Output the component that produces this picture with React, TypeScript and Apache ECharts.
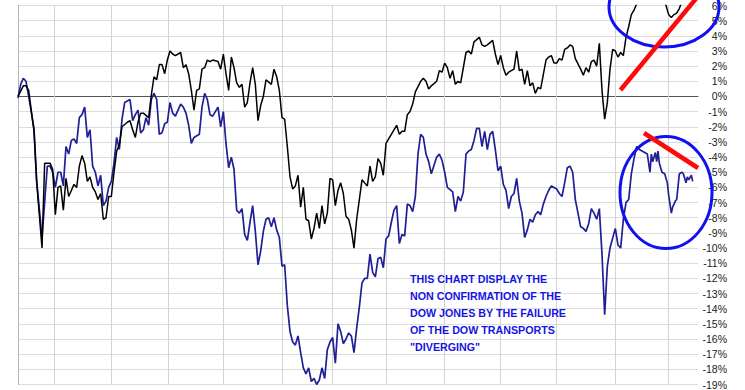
import React, { useEffect, useRef } from "react";
import * as echarts from "echarts";

// Trading-day index (x) and % change (y)
const dowDays = [0,2,3,4,6,7,9,10,12,13,14,15,16,17,18,19,20,21,22,23,24,25,26,27,28,29,30,31,32,33,34,35,36,37,38,39,41,42,43,44,45,46,47,49,50,51,52,53,54,55,56,57,58,59,61,62,63,64,65,66,67,68,69,70,71,72,73,75,76,77,78,79,80,81,82,83,84,85,86,87,88,89,90,91,92,93,95,96,97,98,99,100,101,102,103,104,105,106,107,108,109,110,111,112,113,114,115,116,117,118,119,120,121,122,123,124,125,126,127,128,129,130,131,132,133,134,135,136,137,138,139,140,142,143,144,145,146,147,148,149,151,152,153,154,155,157,158,159,160,161,162,163,164,165,166,168,169,170,171,173,174,175,176,178,179,180,181,182,183,184,186,187,188,189,190,191,192,193,194,195,196,198,199,200,201,202,203,204,205,206,207,208,209,211,212,213,214,215,216,217,218,219,220,221,222,223,224,225,226,227,228,229,230,231,232,233,234,236,238,240,242,243,244,245,246,247,248,249,250,252];
const dowPct = [0.0,0.7,0.7,0.4,-2.3,-5.6,-10.0,-4.4,-4.4,-4.8,-7.8,-6.0,-5.9,-7.5,-5.4,-6.6,-6.2,-5.8,-6.0,-4.6,-3.9,-4.4,-5.6,-5.3,-6.0,-6.3,-6.8,-6.4,-8.1,-8.0,-6.6,-6.6,-5.0,-3.6,-3.2,-2.0,-1.7,-1.6,-2.2,-2.7,-1.7,-1.1,-1.1,-1.4,0.1,1.3,1.1,2.1,2.1,1.5,2.4,3.0,2.8,2.7,2.9,1.9,2.1,1.5,0.4,-0.9,0.4,0.5,1.8,1.9,2.4,2.3,2.4,2.3,1.8,2.8,1.5,0.4,2.6,1.9,0.9,0.6,0.8,-0.7,-0.4,0.9,1.9,0.8,-1.6,-0.6,0.0,1.1,0.8,1.8,1.3,0.4,-1.4,-1.5,-3.3,-5.3,-6.1,-5.9,-5.2,-7.3,-6.0,-8.1,-8.2,-9.4,-8.7,-7.7,-8.7,-7.2,-8.4,-7.7,-5.4,-5.5,-7.2,-6.2,-5.7,-6.4,-7.9,-8.1,-8.8,-10.0,-8.1,-6.8,-5.5,-5.7,-5.9,-4.6,-5.6,-5.3,-4.1,-4.4,-5.2,-3.1,-2.8,-2.5,-1.9,-2.5,-2.3,-2.3,-1.2,-1.0,-0.5,0.3,1.0,1.2,1.0,0.5,0.7,1.0,1.7,1.6,2.2,1.9,1.2,1.7,0.8,1.0,0.9,2.9,3.0,2.8,3.6,3.9,3.4,3.3,3.4,3.7,2.8,2.1,2.7,1.9,1.4,1.6,1.8,3.0,1.7,1.8,0.8,1.7,0.7,0.9,0.2,0.6,0.5,2.4,2.6,2.7,2.2,2.2,2.5,2.4,3.1,3.2,3.4,3.3,2.5,1.8,1.4,1.9,1.6,2.3,2.4,2.0,3.5,0.4,-1.5,-0.4,1.8,3.1,3.0,2.6,2.9,2.7,3.9,4.6,5.4,5.7,6.1,6.5,6.9,7.1,7.0,6.8,6.4,6.0,5.4,5.2,5.4,5.5,5.8,6.3,6.6,7.0];

const transDays = [0,1,2,3,4,6,7,9,11,12,13,14,15,16,17,18,19,20,21,22,23,24,25,26,27,28,29,30,31,32,33,34,35,36,37,38,39,40,42,43,44,45,46,47,48,49,50,51,52,53,54,55,56,57,58,59,61,62,63,64,65,66,68,69,70,71,72,73,75,76,77,78,79,80,81,82,83,84,85,86,87,88,89,90,91,92,93,94,95,96,97,98,99,100,101,102,103,104,105,106,107,108,109,110,111,112,113,114,115,116,117,118,119,120,121,122,123,124,125,126,127,128,129,130,131,132,133,134,135,136,137,138,139,140,141,142,143,144,145,146,147,148,149,150,151,152,153,154,155,157,158,159,160,161,163,164,165,166,167,168,169,170,171,172,173,174,175,176,177,178,179,180,181,182,183,184,185,186,187,188,189,190,191,192,193,194,195,196,197,198,199,200,202,203,204,205,206,207,208,209,211,212,213,214,215,216,217,218,219,220,221,222,224,225,226,227,228,229,230,231,232,233,234,235,236,237,237.5,238,239,239.5,240,240.5,241.5,242.5,243.5,244,245,245.5,246.5,247,248,249,249.5,250.5,251,251.5,252.5,253];
const transPct = [-0.1,0.8,1.2,1.0,0.0,-2.1,-5.6,-9.3,-4.6,-4.6,-5.0,-6.0,-5.0,-5.0,-5.9,-3.3,-3.8,-2.9,-2.8,-3.1,-1.4,-1.2,-0.7,-2.7,-2.2,-4.6,-5.0,-5.9,-5.2,-7.2,-6.9,-6.0,-5.6,-4.4,-2.7,-3.5,-1.5,-0.4,-0.2,-1.6,-1.2,-0.9,-2.4,-2.2,-1.4,-1.9,-0.2,0.2,-0.2,-2.5,-2.4,-1.8,-1.7,-0.4,-1.1,-1.3,-0.5,-0.7,-1.1,-1.9,-3.1,-2.7,-2.5,-0.7,0.2,-0.2,-1.2,-1.3,-0.7,-2.0,-1.0,-3.1,-4.7,-4.0,-4.8,-7.5,-7.7,-7.4,-9.1,-9.5,-8.3,-7.2,-8.9,-11.1,-10.2,-8.9,-8.1,-8.0,-8.6,-8.0,-8.8,-9.3,-11.2,-11.1,-13.8,-15.5,-16.2,-16.4,-15.8,-16.9,-17.9,-18.3,-17.9,-18.8,-18.6,-19.0,-18.7,-17.9,-18.6,-16.7,-16.2,-15.9,-17.6,-15.0,-15.5,-16.3,-16.0,-15.6,-15.8,-16.9,-15.3,-13.9,-12.3,-12.0,-12.0,-10.4,-11.6,-11.9,-10.7,-10.6,-11.3,-9.4,-9.2,-8.3,-7.5,-7.2,-9.7,-9.1,-9.2,-7.1,-7.2,-7.6,-6.6,-3.8,-2.5,-2.7,-3.8,-4.3,-5.1,-4.0,-3.8,-4.2,-5.0,-6.0,-6.3,-7.6,-6.6,-6.9,-6.3,-3.8,-3.6,-3.5,-2.9,-2.1,-2.1,-3.3,-2.3,-3.5,-2.5,-2.3,-3.5,-4.9,-4.6,-5.8,-6.2,-7.4,-6.6,-6.4,-5.4,-6.9,-7.7,-9.3,-8.8,-8.1,-8.3,-7.8,-7.6,-7.8,-7.1,-6.6,-6.2,-5.9,-6.1,-6.4,-6.6,-5.7,-4.7,-4.6,-5.0,-6.8,-8.6,-8.7,-8.9,-8.4,-7.4,-7.7,-8.1,-7.4,-10.4,-14.4,-11.2,-10.0,-8.7,-9.8,-10.0,-8.1,-7.0,-6.8,-5.1,-4.1,-3.3,-3.5,-3.6,-3.7,-3.8,-5.0,-3.8,-4.3,-3.7,-4.3,-3.6,-4.4,-5.0,-5.1,-5.7,-6.5,-7.7,-7.3,-6.9,-6.8,-5.1,-5.0,-5.1,-5.7,-5.3,-5.5,-5.2,-5.6];

// Month boundaries (trading-day index) drawn as vertical grid lines
const monthStarts = [13.5, 35, 56.5, 77, 99, 118, 138, 160, 181, 202, 224, 244];

const yMin = -19;
const yMax = 6;
const dayMax = 255;

const noteText = [
  "THIS CHART DISPLAY THE",
  "NON CONFIRMATION OF THE",
  "DOW JONES BY THE FAILURE",
  "OF THE DOW TRANSPORTS",
  '"DIVERGING"',
];

export default function App() {
  const ref = useRef<HTMLDivElement>(null);
  useEffect(() => {
    if (!ref.current) return;
    const chart = echarts.init(ref.current, null, { renderer: "svg" });
    const dow = dowDays.map((d, i) => [d, dowPct[i]]);
    const trans = transDays.map((d, i) => [d, transPct[i]]);
    chart.setOption({
      animation: false,
      backgroundColor: "#ffffff",
      grid: { left: 18, right: 47, top: 0, bottom: -13, containLabel: false },
      xAxis: {
        type: "value",
        min: 0,
        max: dayMax,
        axisLine: { show: true, onZero: true, lineStyle: { color: "#555555", width: 1 } },
        axisTick: { show: false },
        axisLabel: { show: false },
        splitLine: { show: false },
      },
      yAxis: [
        {
          type: "value",
          position: "right",
          min: yMin,
          max: yMax,
          interval: 1,
          axisLine: { show: true, lineStyle: { color: "#b4b4b4", width: 1 } },
          axisTick: { show: false },
          axisLabel: {
            formatter: (v: number) => `${v}%`,
            align: "right",
            margin: 29,
            color: "#1a1a1a",
            fontSize: 10.5,
            fontFamily: "Liberation Sans, Arial, sans-serif",
          },
          splitLine: { show: true, lineStyle: { color: "#dcdcdc", width: 1 } },
        },
        {
          type: "value",
          position: "left",
          min: yMin,
          max: yMax,
          interval: 1,
          axisLine: { show: true, lineStyle: { color: "#b4b4b4", width: 1 } },
          axisTick: { show: false },
          axisLabel: { show: false },
          splitLine: { show: false },
        },
      ],
      series: [
        {
          type: "line",
          name: "Dow Transports",
          data: trans,
          showSymbol: false,
          symbol: "none",
          lineStyle: { color: "#1f1f96", width: 1.7 },
          z: 3,
          markLine: {
            silent: true,
            z: 1,
            symbol: ["none", "none"],
            label: { show: false },
            lineStyle: { color: "#d4d4d4", width: 1, type: "solid" },
            data: monthStarts.map((d) => ({ xAxis: d })),
          },
        },
        {
          type: "line",
          name: "Dow Jones",
          data: dow,
          showSymbol: false,
          symbol: "none",
          lineStyle: { color: "#000000", width: 1.5 },
          z: 4,
        },
      ],
      graphic: [
        {
          type: "ellipse",
          z: 10,
          shape: { cx: 664, cy: 7, rx: 55, ry: 40 },
          style: { fill: "none", stroke: "#1010f0", lineWidth: 3 },
        },
        {
          type: "ellipse",
          z: 10,
          shape: { cx: 666, cy: 192.5, rx: 46, ry: 56 },
          style: { fill: "none", stroke: "#1010f0", lineWidth: 3 },
        },
        {
          type: "line",
          z: 11,
          shape: { x1: 620.5, y1: 90, x2: 699, y2: -5 },
          style: { stroke: "#ff0a0a", lineWidth: 4.5 },
        },
        {
          type: "line",
          z: 11,
          shape: { x1: 644, y1: 133, x2: 698, y2: 168 },
          style: { stroke: "#ff0a0a", lineWidth: 4.5 },
        },
        {
          type: "text",
          z: 12,
          x: 410,
          y: 270,
          style: {
            text: noteText.join("\n"),
            fill: "#1414e6",
            font: 'bold 10.7px "Liberation Sans", Arial, sans-serif',
            lineHeight: 17,
            verticalAlign: "top",
            align: "left",
          },
        },
      ],
    });
    return () => chart.dispose();
  }, []);
  return (
    <div
      ref={ref}
      style={{ position: "fixed", left: 0, top: 0, width: 745, height: 390, background: "#fff" }}
    />
  );
}
